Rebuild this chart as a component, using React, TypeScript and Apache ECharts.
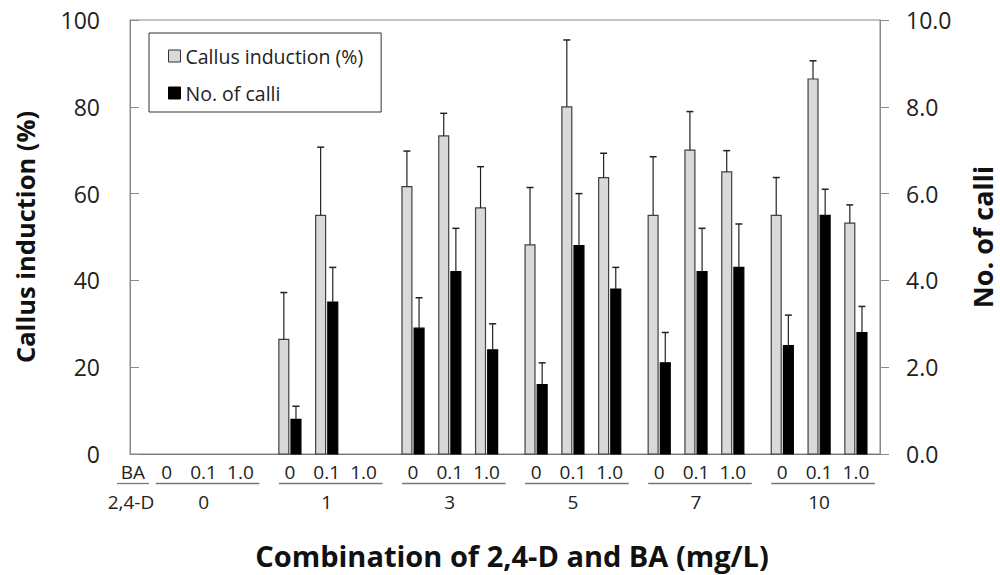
import React, { useEffect, useRef } from "react";
import * as echarts from "echarts";

// 2,4-D concentrations (mg/L) and BA concentrations (mg/L) within each group
const dLevels = ["0", "1", "3", "5", "7", "10"];
const baLevels = ["0", "0.1", "1.0"];

// Callus induction (%) mean and upper error, in order 2,4-D × BA
const callusInduction = [0, 0, 0, 26.4, 55, 0, 61.6, 73.3, 56.7, 48.2, 80, 63.7, 55, 70, 65, 55, 86.4, 53.2];
const callusInductionErr = [0, 0, 0, 10.8, 15.7, 0, 8.2, 5.2, 9.5, 13.2, 15.4, 5.6, 13.5, 8.9, 4.9, 8.7, 4.2, 4.2];

// Number of calli mean and upper error
const calliCount = [0, 0, 0, 0.8, 3.5, 0, 2.9, 4.2, 2.4, 1.6, 4.8, 3.8, 2.1, 4.2, 4.3, 2.5, 5.5, 2.8];
const calliCountErr = [0, 0, 0, 0.3, 0.8, 0, 0.7, 1.0, 0.6, 0.5, 1.2, 0.5, 0.7, 1.0, 1.0, 0.7, 0.6, 0.6];

const leftTicks = [0, 20, 40, 60, 80, 100];
const rightTicks = [0, 2, 4, 6, 8, 10];

// x layout in slot units: one slot per treatment, small extra gap between 2,4-D groups
const FIRST_SLOT = 1.0;
const GROUP_PITCH = 3.345;
const X_MAX = 20.38;
const BAR_W = 0.27;
const BAR_GAP = 0.03;

const FONT = "'Open Sans', 'Noto Sans', sans-serif";
const slotX = (i: number) => FIRST_SLOT + Math.floor(i / 3) * GROUP_PITCH + (i % 3);

function barItem(side: -1 | 1, fill: string, stroke: string) {
  return (params: any, api: any) => {
    const x = api.value(0);
    const v = api.value(1);
    const e = api.value(2);
    if (!v) return { type: "group", children: [] };
    const slot = api.size([1, 0])[0];
    const base = api.coord([x, 0]);
    const top = api.coord([x, v]);
    const errTop = api.coord([x, v + e]);
    const w = slot * BAR_W;
    const left = side < 0 ? base[0] - slot * BAR_GAP - w : base[0] + slot * BAR_GAP;
    const cx = left + w / 2;
    const children: any[] = [
      {
        type: "rect",
        shape: { x: left, y: top[1], width: w, height: base[1] - top[1] },
        style: { fill, stroke, lineWidth: 1.2 },
      },
    ];
    if (e > 0) {
      children.push(
        { type: "line", shape: { x1: cx, y1: top[1], x2: cx, y2: errTop[1] }, style: { stroke: "#222", lineWidth: 1.2 } },
        { type: "line", shape: { x1: cx - 3.5, y1: errTop[1], x2: cx + 3.5, y2: errTop[1] }, style: { stroke: "#222", lineWidth: 1.5 } }
      );
    }
    return { type: "group", children };
  };
}

function labelItem(params: any, api: any) {
  const i = params.dataIndex;
  const x = api.value(0);
  const slot = api.size([1, 0])[0];
  const p = api.coord([x, 0]);
  const y0 = p[1];
  const txt = (text: string, cx: number, cy: number) => ({
    type: "text",
    style: { text, x: cx, y: cy, fill: "#222", font: `19px ${FONT}`, align: "center", verticalAlign: "middle" },
  });
  const uline = (x1: number, x2: number) => ({
    type: "line",
    shape: { x1, y1: y0 + 29.5, x2, y2: y0 + 29.5 },
    style: { stroke: "#777", lineWidth: 1.3 },
  });
  const children: any[] = [txt(baLevels[i % 3], p[0], y0 + 18)];
  if (i % 3 === 0) {
    children.push(uline(p[0] - 11, p[0] + 2 * slot + 19));
    children.push(txt(dLevels[Math.floor(i / 3)], p[0] + slot, y0 + 48));
  }
  if (i === 0) {
    const hx = p[0] - slot + 3;
    children.push(txt("BA", hx, y0 + 18));
    children.push(uline(hx - 16, hx + 16));
    children.push(txt("2,4-D", hx - 2, y0 + 48));
  }
  return { type: "group", children };
}

export default function App() {
  const ref = useRef<HTMLDivElement>(null);

  useEffect(() => {
    if (!ref.current) return;
    const chart = echarts.init(ref.current, null, { renderer: "svg" });
    const idx = callusInduction.map((_, i) => i);

    chart.setOption({
      animation: false,
      backgroundColor: "#fff",
      textStyle: { fontFamily: FONT },
      grid: {
        left: 130,
        right: 120,
        top: 20,
        bottom: 121,
        outerBoundsMode: "none",
        show: true,
        borderColor: "#888",
        borderWidth: 1,
      },
      legend: {
        orient: "vertical",
        left: 149,
        top: 33,
        padding: [12, 18, 8, 19],
        itemGap: 15,
        itemWidth: 12,
        itemHeight: 12,
        backgroundColor: "#fff",
        borderColor: "#333",
        borderWidth: 1,
        borderRadius: 0,
        textStyle: { fontSize: 19.5, color: "#222", fontFamily: FONT, lineHeight: 22 },
        data: [
          { name: "Callus induction (%)", icon: "rect", itemStyle: { color: "#d9d9d9", borderColor: "#333", borderWidth: 1 } },
          { name: "No. of calli", icon: "rect", itemStyle: { color: "#000", borderColor: "#000", borderWidth: 1 } },
        ],
      },
      xAxis: {
        type: "value",
        min: 0,
        max: X_MAX,
        axisLine: { show: true, lineStyle: { color: "#777" } },
        axisTick: { show: false },
        axisLabel: { show: false },
        splitLine: { show: false },
        name: "Combination of 2,4-D and BA (mg/L)",
        nameLocation: "middle",
        nameGap: 84,
        nameTextStyle: {
          fontSize: 29,
          lineHeight: 34,
          fontWeight: "bold",
          color: "#111",
          fontFamily: FONT,
          padding: [0, 0, 0, 14],
        },
      },
      yAxis: [
        {
          type: "value",
          min: leftTicks[0],
          max: leftTicks[leftTicks.length - 1],
          interval: 20,
          axisLine: { show: true, lineStyle: { color: "#888" } },
          axisTick: { show: true, inside: true, length: 9, lineStyle: { color: "#888" } },
          axisLabel: { fontSize: 23, color: "#222", margin: 30, fontFamily: FONT },
          splitLine: { show: false },
          name: "Callus induction (%)",
          nameLocation: "middle",
          nameRotate: 90,
          nameGap: 91,
          nameTextStyle: { fontSize: 25.5, lineHeight: 28, fontWeight: "bold", color: "#111", fontFamily: FONT },
        },
        {
          type: "value",
          min: rightTicks[0],
          max: rightTicks[rightTicks.length - 1],
          interval: 2,
          position: "right",
          axisLine: { show: true, lineStyle: { color: "#888" } },
          axisTick: { show: true, inside: false, length: 9, lineStyle: { color: "#888" } },
          axisLabel: { fontSize: 23, color: "#222", margin: 26, fontFamily: FONT, formatter: (v: number) => v.toFixed(1) },
          splitLine: { show: false },
          name: "No. of calli",
          nameLocation: "middle",
          nameRotate: 90,
          nameGap: 89,
          nameTextStyle: { fontSize: 27, lineHeight: 27, fontWeight: "bold", color: "#111", fontFamily: FONT },
        },
      ],
      series: [
        {
          name: "Callus induction (%)",
          type: "custom",
          xAxisIndex: 0,
          yAxisIndex: 0,
          clip: false,
          itemStyle: { color: "#d9d9d9" },
          encode: { x: 0, y: 1 },
          renderItem: barItem(-1, "#d9d9d9", "#404040"),
          data: idx.map((i) => [slotX(i), callusInduction[i], callusInductionErr[i]]),
          z: 3,
        },
        {
          name: "No. of calli",
          type: "custom",
          xAxisIndex: 0,
          yAxisIndex: 1,
          clip: false,
          itemStyle: { color: "#000" },
          encode: { x: 0, y: 1 },
          renderItem: barItem(1, "#000", "#000"),
          data: idx.map((i) => [slotX(i), calliCount[i], calliCountErr[i]]),
          z: 3,
        },
        {
          name: "treatment labels",
          type: "custom",
          xAxisIndex: 0,
          yAxisIndex: 0,
          clip: false,
          silent: true,
          encode: { x: 0, y: 1 },
          renderItem: labelItem,
          data: idx.map((i) => [slotX(i), 0]),
          z: 2,
        },
      ],
    });

    return () => chart.dispose();
  }, []);

  return (
    <div
      ref={ref}
      style={{ position: "fixed", left: 0, top: 0, width: 1000, height: 575, background: "#fff" }}
    />
  );
}
